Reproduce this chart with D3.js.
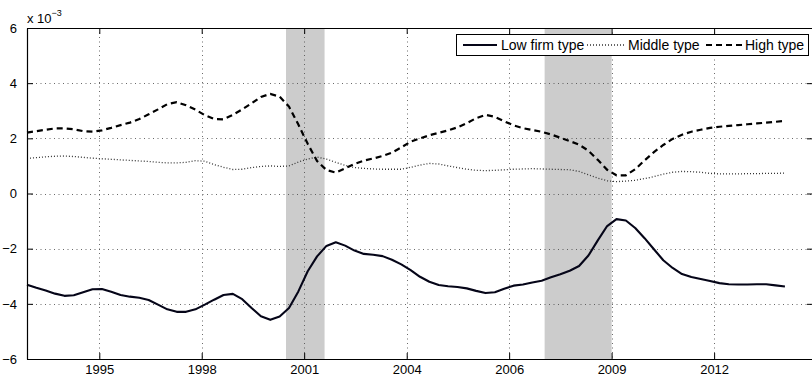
<!DOCTYPE html>
<html>
<head>
<meta charset="utf-8">
<script src="https://cdn.jsdelivr.net/npm/d3@7"></script>
<style>
  html, body { margin: 0; padding: 0; background: #fff; }
  svg { display: block; font-family: "Liberation Sans", Arial, Helvetica, sans-serif; }
</style>
</head>
<body>
<svg id="chart" width="812" height="377"></svg>
<script>
// ---- data (values in units of 1e-3), quarterly from 1994Q1 ----
const startYear = 1994.0;
const lowFirm = [-3.31,-3.42,-3.52,-3.63,-3.71,-3.69,-3.58,-3.47,-3.46,-3.56,
  -3.68,-3.74,-3.78,-3.86,-4.03,-4.20,-4.29,-4.29,-4.20,-4.03,
  -3.85,-3.68,-3.64,-3.83,-4.15,-4.45,-4.58,-4.46,-4.15,-3.55,
  -2.82,-2.28,-1.90,-1.77,-1.89,-2.07,-2.19,-2.22,-2.27,-2.40,
  -2.57,-2.78,-3.02,-3.20,-3.32,-3.36,-3.39,-3.44,-3.53,-3.61,
  -3.58,-3.45,-3.34,-3.30,-3.23,-3.16,-3.04,-2.93,-2.80,-2.63,
  -2.25,-1.70,-1.18,-0.93,-0.98,-1.25,-1.62,-2.02,-2.42,-2.70,
  -2.92,-3.03,-3.10,-3.17,-3.25,-3.29,-3.30,-3.30,-3.29,-3.29,
  -3.33,-3.37];
const middleType = [1.27,1.30,1.33,1.35,1.36,1.34,1.31,1.28,1.26,1.24,
  1.22,1.20,1.18,1.16,1.13,1.11,1.11,1.13,1.19,1.17,
  1.05,0.95,0.87,0.88,0.94,0.98,1.00,0.98,1.00,1.14,
  1.25,1.32,1.25,1.13,1.02,0.94,0.91,0.89,0.88,0.88,
  0.88,0.95,1.03,1.09,1.07,1.00,0.94,0.88,0.84,0.83,
  0.84,0.86,0.88,0.89,0.90,0.89,0.88,0.87,0.86,0.80,
  0.68,0.56,0.46,0.43,0.45,0.48,0.54,0.61,0.70,0.77,
  0.80,0.79,0.77,0.73,0.71,0.71,0.71,0.72,0.72,0.73,
  0.73,0.74];
const highType = [2.21,2.26,2.31,2.36,2.36,2.33,2.26,2.24,2.29,2.38,
  2.48,2.57,2.70,2.87,3.05,3.24,3.31,3.20,3.04,2.84,
  2.70,2.69,2.85,3.05,3.27,3.50,3.61,3.51,3.15,2.50,
  1.80,1.18,0.85,0.76,0.91,1.07,1.19,1.27,1.36,1.48,
  1.67,1.88,2.00,2.11,2.20,2.29,2.40,2.55,2.73,2.85,
  2.78,2.62,2.47,2.37,2.30,2.24,2.14,2.02,1.90,1.77,
  1.55,1.22,0.86,0.66,0.66,0.88,1.20,1.50,1.76,1.98,
  2.13,2.24,2.31,2.38,2.42,2.45,2.48,2.51,2.54,2.57,
  2.60,2.63];
const recessions = [[2000.92, 2001.95], [2007.83, 2009.62]];
// x ticks sit at MATLAB datenum multiples of 1000 (decimal years)
const xTickValues = [1995.932, 1998.668, 2001.405, 2004.145, 2006.882, 2009.619, 2012.358];
const xTickLabels = ["1995", "1998", "2001", "2004", "2006", "2009", "2012"];
const yTickValues = [-6, -4, -2, 0, 2, 4, 6];
const seriesNames = ["Low firm type", "Middle type", "High type"];

// ---- layout ----
const L = 27, R = 813, T = 28, B = 359;
const svg = d3.select("#chart");
const x = d3.scaleLinear().domain([1994.0, 2015.0]).range([L, R]);
const y = d3.scaleLinear().domain([-6, 6]).range([B, T]);
const t = i => startYear + 0.25 * i;

// recession shading
svg.append("g").selectAll("rect").data(recessions).join("rect")
  .attr("x", d => x(d[0])).attr("y", T)
  .attr("width", d => x(d[1]) - x(d[0])).attr("height", B - T)
  .attr("fill", "#cccccc");

// grid
const grid = svg.append("g").attr("stroke", "#444").attr("stroke-width", 0.8)
  .attr("stroke-dasharray", "1,3.5").attr("fill", "none");
grid.selectAll("line.gx").data(xTickValues).join("line").attr("class", "gx")
  .attr("x1", d => Math.round(x(d)) + 0.5).attr("x2", d => Math.round(x(d)) + 0.5)
  .attr("y1", T).attr("y2", B);
grid.selectAll("line.gy").data(yTickValues.slice(1, -1)).join("line").attr("class", "gy")
  .attr("y1", d => Math.round(y(d)) + 0.5).attr("y2", d => Math.round(y(d)) + 0.5)
  .attr("x1", L).attr("x2", R);

// lines
const line = d3.line().x((d, i) => x(t(i))).y(d => y(d));
svg.append("path").datum(middleType).attr("d", line)
  .attr("fill", "none").attr("stroke", "#333").attr("stroke-width", 1.3)
  .attr("stroke-dasharray", "1,2");
svg.append("path").datum(highType).attr("d", line)
  .attr("fill", "none").attr("stroke", "#000").attr("stroke-width", 2.2)
  .attr("stroke-dasharray", "6,4");
svg.append("path").datum(lowFirm).attr("d", line)
  .attr("fill", "none").attr("stroke", "#050518").attr("stroke-width", 2.1)
  .attr("stroke-linejoin", "round");

// axes (MATLAB-style box with inward ticks)
const tickLen = 6;
const axBottom = d3.axisBottom(x).tickValues(xTickValues)
  .tickFormat((d, i) => xTickLabels[i]).tickSizeInner(-tickLen).tickSizeOuter(0).tickPadding(6);
const gB = svg.append("g").attr("transform", `translate(0,${B})`).call(axBottom);
const axTop = d3.axisTop(x).tickValues(xTickValues).tickFormat("").tickSizeInner(-tickLen).tickSizeOuter(0);
const gT = svg.append("g").attr("transform", `translate(0,${T})`).call(axTop);
const axLeft = d3.axisLeft(y).tickValues(yTickValues)
  .tickFormat(d => d < 0 ? "\u2212" + Math.abs(d) : String(d)).tickSizeInner(-tickLen).tickSizeOuter(0).tickPadding(10);
const gL = svg.append("g").attr("transform", `translate(${L},0)`).call(axLeft);
const axRight = d3.axisRight(y).tickValues(yTickValues).tickFormat("").tickSizeInner(-tickLen).tickSizeOuter(0);
const gR = svg.append("g").attr("transform", `translate(${R},0)`).call(axRight);
[gB, gT, gL, gR].forEach(g => {
  g.selectAll("path.domain").attr("stroke", "#000").attr("stroke-width", 1.2);
  g.selectAll(".tick line").attr("stroke", "#000").attr("stroke-width", 1);
  g.selectAll("text").attr("fill", "#000").style("font-size", "13px")
    .style("font-family", '"Liberation Sans", Arial, sans-serif');
});
gB.selectAll("text").attr("dy", "0.71em");

// exponent label
const ex = svg.append("text").attr("x", 27).attr("y", 23).attr("fill", "#000")
  .style("font-size", "13px");
ex.append("tspan").text("x 10");
ex.append("tspan").attr("dy", -7).style("font-size", "9px").text("\u22123");

// legend
const lg = svg.append("g");
lg.append("rect").attr("x", 456.5).attr("y", 34.5).attr("width", 352).attr("height", 21)
  .attr("fill", "#fff").attr("stroke", "#000").attr("stroke-width", 1);
const legendItems = [
  {name: seriesNames[0], x1: 463, x2: 497, tx: 501, color: "#050518", w: 2.1, dash: null},
  {name: seriesNames[1], x1: 587, x2: 625, tx: 628, color: "#333", w: 1.3, dash: "1,2"},
  {name: seriesNames[2], x1: 706, x2: 742, tx: 745, color: "#000", w: 2.2, dash: "6,4"}
];
legendItems.forEach(it => {
  lg.append("line").attr("x1", it.x1).attr("x2", it.x2).attr("y1", 45).attr("y2", 45)
    .attr("stroke", it.color).attr("stroke-width", it.w).attr("stroke-dasharray", it.dash);
  lg.append("text").attr("x", it.tx).attr("y", 50).attr("fill", "#000")
    .style("font-size", "14px").text(it.name);
});
</script>
</body>
</html>
